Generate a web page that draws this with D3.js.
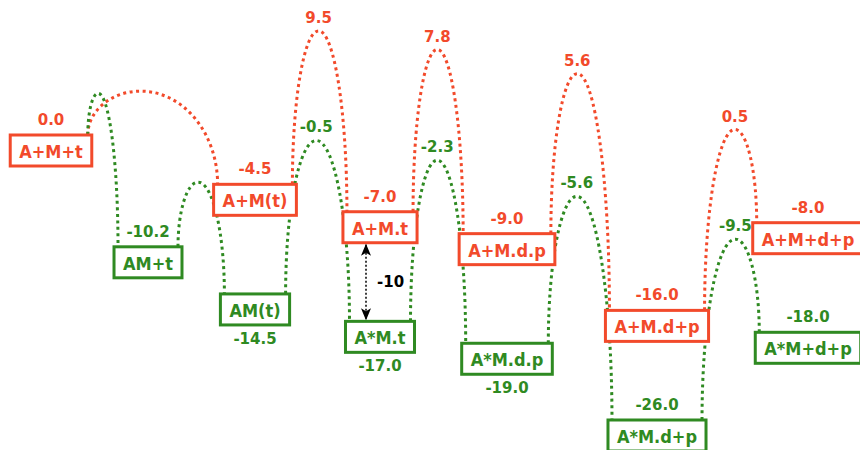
<!DOCTYPE html>
<html>
<head>
<meta charset="utf-8">
<script src="https://cdn.jsdelivr.net/npm/d3@7"></script>
<style>
  body { margin: 0; background: #fff; }
  text { font-family: "DejaVu Sans", sans-serif; font-weight: bold; }
  text.name { font-family: "DejaVu Sans Condensed", "DejaVu Sans", sans-serif; }
</style>
</head>
<body>
<script>
// upper (red) pathway: states, energies, stage on the reaction coordinate
const redStates = ["A+M+t", "A+M(t)", "A+M.t", "A+M.d.p", "A+M.d+p", "A+M+d+p"];
const redEnergy = [0.0, -4.5, -7.0, -9.0, -16.0, -8.0];
const redStage = [0, 2, 3, 4, 5, 6];
// barriers between consecutive red states
const redBarrier = [4.0, 9.5, 7.8, 5.6, 0.5];
const redBarrierLabeled = [false, true, true, true, true];

// lower (green) pathway, first barrier starts from A+M+t
const greenStates = ["AM+t", "AM(t)", "A*M.t", "A*M.d.p", "A*M.d+p", "A*M+d+p"];
const greenEnergy = [-10.2, -14.5, -17.0, -19.0, -26.0, -18.0];
const greenStage = [1, 2, 3, 4, 5, 6];
const greenBarrier = [3.8, -4.3, -0.5, -2.3, -5.6, -9.5];
const greenBarrierLabeled = [false, false, true, true, true, true];
const greenLabelBelow = ["AM(t)", "A*M.t", "A*M.d.p"];

// the marked gap between the two pathways
const gapPair = ["A+M.t", "A*M.t"];

const RED = "#f24a2b", GREEN = "#2f8a22";
const width = 860, height = 450;
const boxH = 31, pad = 9, inset = 4;

const fmt = d3.formatLocale({decimal: ".", thousands: ",", grouping: [3], currency: ["", ""], minus: "-"});
const f1 = fmt.format(".1f"), f0 = fmt.format("d");

const svg = d3.select("body").append("svg")
    .attr("width", width)
    .attr("height", height);

svg.append("defs").append("marker")
    .attr("id", "head")
    .attr("viewBox", "0 0 12 10")
    .attr("refX", 11).attr("refY", 5)
    .attr("markerWidth", 12).attr("markerHeight", 10)
    .attr("markerUnits", "userSpaceOnUse")
    .attr("orient", "auto-start-reverse")
  .append("path")
    .attr("d", "M0,0 L12,5 L0,10 L3,5 z")
    .attr("fill", "#000");

// reaction coordinate -> x, energy -> y (box top)
const x = d3.scaleLinear().domain(d3.range(7)).range([51, 148, 255, 380, 507, 657, 808]);
const y = d3.scaleLinear().domain([0, -26]).range([135, 420]);

const red = redStates.map((name, i) => ({name, e: redEnergy[i], stage: redStage[i], color: RED, below: false}));
const green = greenStates.map((name, i) => ({name, e: greenEnergy[i], stage: greenStage[i], color: GREEN,
    below: greenLabelBelow.includes(name)}));
const states = red.concat(green);

const arcLayer = svg.append("g");
const boxLayer = svg.append("g");
const labelLayer = svg.append("g");

// boxes, sized to their text
let boxes = boxLayer.selectAll("g")
    .data(states)
    .enter()
    .append("g")
    .attr("transform", d => "translate(" + x(d.stage) + "," + y(d.e) + ")");

boxes.append("text")
    .attr("class", "name")
    .attr("y", boxH / 2 + 1)
    .attr("text-anchor", "middle")
    .attr("dominant-baseline", "central")
    .style("font-size", "18px")
    .attr("fill", d => d.color)
    .text(d => d.name)
    .each(function(d) {
        const w = this.getComputedTextLength();
        d.left = x(d.stage) - w / 2 - pad;
        d.right = x(d.stage) + w / 2 + pad;
        d.w = w + 2 * pad;
    });

boxes.insert("rect", "text")
    .attr("x", d => -d.w / 2)
    .attr("y", 0)
    .attr("width", d => d.w)
    .attr("height", boxH)
    .attr("fill", "#fff")
    .attr("stroke", d => d.color)
    .attr("stroke-width", 3);

// energy values of the states
labelLayer.selectAll("text.val")
    .data(states)
    .enter()
    .append("text")
    .attr("class", "val")
    .attr("x", d => x(d.stage))
    .attr("y", d => d.below ? y(d.e) + boxH + 19 : y(d.e) - 10)
    .attr("text-anchor", "middle")
    .style("font-size", "15px")
    .attr("fill", d => d.color)
    .text(d => f1(d.e));

// barrier arcs
const arcs = [];
red.slice(1).forEach((to, i) => arcs.push({from: red[i], to, e: redBarrier[i], labeled: redBarrierLabeled[i], color: RED}));
green.forEach((to, i) => arcs.push({from: i === 0 ? red[0] : green[i - 1], to, e: greenBarrier[i],
    labeled: greenBarrierLabeled[i], color: GREEN}));

arcs.forEach(a => {
    a.x0 = a.from.right - inset; a.y0 = y(a.from.e);
    a.x1 = a.to.left + inset;    a.y1 = y(a.to.e);
    a.yp = y(a.e);
    const h0 = Math.sqrt(a.y0 - a.yp), h1 = Math.sqrt(a.y1 - a.yp);
    a.xp = a.x0 + (a.x1 - a.x0) * h0 / (h0 + h1);
});

function arcPath(a) {
    const k = 0.5523;
    const p = d3.path();
    p.moveTo(a.x0, a.y0);
    p.bezierCurveTo(a.x0, a.y0 - k * (a.y0 - a.yp), a.xp - k * (a.xp - a.x0), a.yp, a.xp, a.yp);
    p.bezierCurveTo(a.xp + k * (a.x1 - a.xp), a.yp, a.x1, a.y1 - k * (a.y1 - a.yp), a.x1, a.y1);
    return p.toString();
}

arcLayer.selectAll("path")
    .data(arcs)
    .enter()
    .append("path")
    .attr("d", arcPath)
    .attr("fill", "none")
    .attr("stroke", d => d.color)
    .attr("stroke-width", 3)
    .attr("stroke-dasharray", "3 3.5");

labelLayer.selectAll("text.ts")
    .data(arcs.filter(a => a.labeled))
    .enter()
    .append("text")
    .attr("class", "ts")
    .attr("x", d => d.xp)
    .attr("y", d => d.yp - 8)
    .attr("text-anchor", "middle")
    .style("font-size", "15px")
    .attr("fill", d => d.color)
    .text(d => f1(d.e));

// double arrow between the two pathways
const upper = states.find(s => s.name === gapPair[0]);
const lower = states.find(s => s.name === gapPair[1]);
const ax = x(upper.stage) - 14;
const ya = y(upper.e) + boxH + 2, yb = y(lower.e) - 2;

svg.append("line")
    .attr("x1", ax).attr("x2", ax)
    .attr("y1", ya).attr("y2", yb)
    .attr("stroke", "#000")
    .attr("stroke-width", 1.5)
    .attr("stroke-dasharray", "2 2")
    .attr("marker-start", "url(#head)")
    .attr("marker-end", "url(#head)");

svg.append("text")
    .attr("x", ax + 11)
    .attr("y", (ya + yb) / 2)
    .attr("dominant-baseline", "central")
    .style("font-size", "15px")
    .attr("fill", "#000")
    .text(f0(lower.e - upper.e));
</script>
</body>
</html>
